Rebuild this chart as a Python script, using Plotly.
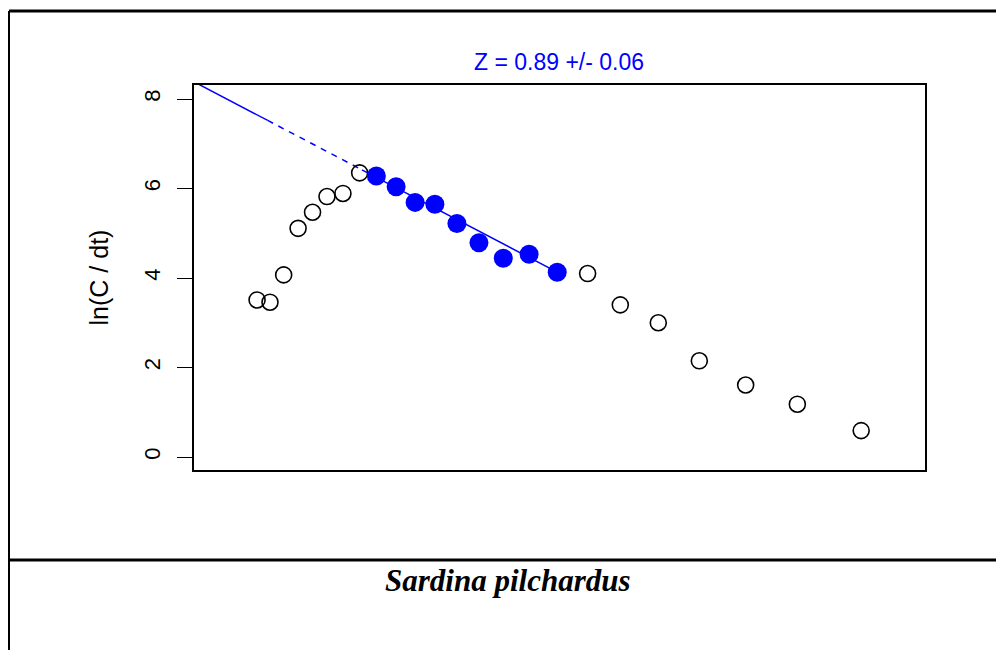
import plotly.graph_objects as go

# Relative age (x) and ln(C/dt) (y)
age_open_left = [0.83, 1.00, 1.18, 1.37, 1.56, 1.75, 1.96, 2.18]
lnc_open_left = [3.51, 3.46, 4.07, 5.11, 5.47, 5.82, 5.89, 6.35]
age_used = [2.40, 2.66, 2.91, 3.17, 3.46, 3.75, 4.07, 4.41, 4.78]
lnc_used = [6.28, 6.04, 5.69, 5.65, 5.22, 4.79, 4.44, 4.53, 4.13]
age_open_right = [5.18, 5.61, 6.11, 6.65, 7.26, 7.94, 8.78]
lnc_open_right = [4.10, 3.40, 3.00, 2.15, 1.61, 1.18, 0.59]

Z = 0.89
Z_se = 0.06
intercept = 8.384
solid_left = [0.0, 0.97]
dashed_mid = [0.97, 2.21]
solid_fit = [2.21, 4.78]

y_ticks = [0, 2, 4, 6, 8]

W, H = 996, 650
L, R, T, B = 194, 71, 85, 180
pw, ph = W - L - R, H - T - B

def px(x):
    return (x - L) / pw

def py(y):
    return (H - B - y) / ph

def line_y(xs):
    return [intercept - Z * x for x in xs]

fig = go.Figure()
fig.add_trace(go.Scatter(x=solid_left, y=line_y(solid_left), mode="lines",
                         line=dict(color="blue", width=1.5), showlegend=False))
fig.add_trace(go.Scatter(x=dashed_mid, y=line_y(dashed_mid), mode="lines",
                         line=dict(color="blue", width=1.5, dash="6px,6px"), showlegend=False))
fig.add_trace(go.Scatter(x=solid_fit, y=line_y(solid_fit), mode="lines",
                         line=dict(color="blue", width=1.5), showlegend=False))
fig.add_trace(go.Scatter(x=age_open_left + age_open_right, y=lnc_open_left + lnc_open_right,
                         mode="markers",
                         marker=dict(symbol="circle-open", size=16, color="black",
                                     line=dict(width=1.6, color="black")),
                         showlegend=False))
fig.add_trace(go.Scatter(x=age_used, y=lnc_used, mode="markers",
                         marker=dict(symbol="circle", size=19, color="blue",
                                     line=dict(width=0)),
                         showlegend=False))

fig.update_layout(
    width=W, height=H,
    margin=dict(l=L, r=R, t=T, b=B),
    paper_bgcolor="white", plot_bgcolor="white",
    font=dict(family="Liberation Sans, Arial", color="black", size=22),
    xaxis=dict(range=[0, 9.62], showticklabels=False, ticks="", showgrid=False,
               zeroline=False, showline=True, linecolor="black", linewidth=1.5, mirror=True),
    yaxis=dict(range=[-0.29, 8.313], tickvals=y_ticks, ticktext=[str(v) for v in y_ticks],
               tickangle=-90, ticks="outside", ticklen=15, tickwidth=1.2, tickcolor="black",
               ticklabelstandoff=8,
               showgrid=False, zeroline=False, showline=True, linecolor="black",
               linewidth=1.5, mirror=True,
               tickfont=dict(size=22),
               title=dict(text="ln(C / dt)", font=dict(size=25), standoff=25)),
    annotations=[
        dict(text=f"Z = {Z:.2f} +/- {Z_se:.2f}", xref="paper", yref="paper",
             x=px(559), y=py(62), showarrow=False, xanchor="center", yanchor="middle",
             font=dict(family="Liberation Sans, Arial", size=23, color="blue")),
        dict(text="<b><i>Sardina pilchardus</i></b>", xref="paper", yref="paper",
             x=px(508), y=py(580), showarrow=False, xanchor="center", yanchor="middle",
             font=dict(family="Liberation Serif, Times New Roman", size=31, color="black")),
    ],
    shapes=[
        dict(type="line", xref="paper", yref="paper", x0=px(9), x1=px(996), y0=py(11), y1=py(11),
             line=dict(color="black", width=3)),
        dict(type="line", xref="paper", yref="paper", x0=px(9), x1=px(9), y0=py(11), y1=py(650),
             line=dict(color="black", width=2)),
        dict(type="line", xref="paper", yref="paper", x0=px(9), x1=px(996), y0=py(560), y1=py(560),
             line=dict(color="black", width=3)),
    ],
)

fig.write_html("out.html")
